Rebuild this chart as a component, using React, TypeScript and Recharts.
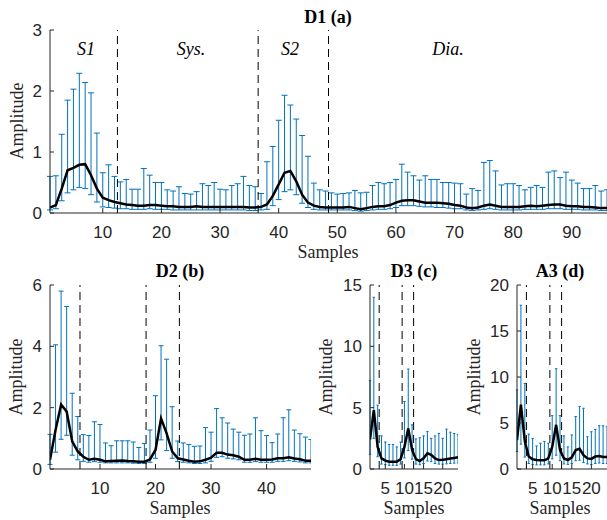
import { LineChart, Line, XAxis, YAxis, ErrorBar, ReferenceLine } from 'recharts'

// D1 (a): 96 samples
const d1Mean = [
  0.09, 0.13, 0.4, 0.7, 0.74, 0.79, 0.8, 0.62, 0.4, 0.25, 0.21, 0.18, 0.16, 0.14, 0.13, 0.12,
  0.12, 0.13, 0.13, 0.12, 0.11, 0.11, 0.1, 0.1, 0.1, 0.11, 0.1, 0.1, 0.1, 0.1, 0.1, 0.1,
  0.1, 0.1, 0.09, 0.09, 0.1, 0.14, 0.28, 0.47, 0.66, 0.69, 0.52, 0.3, 0.17, 0.12, 0.1, 0.09,
  0.09, 0.09, 0.09, 0.1, 0.08, 0.06, 0.08, 0.1, 0.11, 0.11, 0.13, 0.17, 0.2, 0.21, 0.21, 0.19,
  0.17, 0.17, 0.17, 0.16, 0.15, 0.13, 0.12, 0.09, 0.08, 0.09, 0.12, 0.14, 0.12, 0.1, 0.1, 0.1,
  0.1, 0.11, 0.12, 0.11, 0.12, 0.13, 0.14, 0.14, 0.12, 0.11, 0.11, 0.1, 0.1, 0.09, 0.08, 0.08,
]
const d1Upper = [
  0.6, 0.61, 1.29, 1.85, 2.03, 2.29, 2.14, 1.97, 1.31, 0.66, 0.79, 0.6, 0.51, 0.55, 0.39, 0.39,
  0.73, 0.62, 0.5, 0.5, 0.38, 0.36, 0.43, 0.32, 0.31, 0.35, 0.48, 0.45, 0.5, 0.39, 0.38, 0.45,
  0.48, 0.6, 0.45, 0.43, 0.32, 0.84, 1.09, 1.52, 1.93, 1.77, 1.54, 1.27, 0.93, 0.49, 0.38, 0.36,
  0.33, 0.31, 0.32, 0.33, 0.37, 0.33, 0.34, 0.45, 0.5, 0.48, 0.5, 0.55, 0.8, 0.67, 0.61, 0.54,
  0.61, 0.55, 0.55, 0.5, 0.5, 0.49, 0.48, 0.31, 0.4, 0.37, 0.83, 0.86, 0.69, 0.46, 0.48, 0.48,
  0.45, 0.38, 0.42, 0.45, 0.42, 0.67, 0.69, 0.58, 0.67, 0.54, 0.49, 0.4, 0.4, 0.45, 0.36, 0.38,
]
const d1Lower = [
  0.05, 0.07, 0.2, 0.33, 0.38, 0.42, 0.4, 0.3, 0.18, 0.1, 0.09, 0.08, 0.07, 0.07, 0.06, 0.06,
  0.06, 0.07, 0.06, 0.06, 0.06, 0.05, 0.05, 0.05, 0.05, 0.05, 0.05, 0.05, 0.05, 0.05, 0.05, 0.05,
  0.05, 0.05, 0.04, 0.04, 0.05, 0.06, 0.12, 0.22, 0.35, 0.38, 0.3, 0.16, 0.09, 0.06, 0.05, 0.05,
  0.05, 0.05, 0.05, 0.05, 0.04, 0.03, 0.04, 0.05, 0.06, 0.06, 0.07, 0.09, 0.12, 0.12, 0.12, 0.11,
  0.1, 0.1, 0.09, 0.09, 0.08, 0.07, 0.07, 0.05, 0.04, 0.05, 0.06, 0.07, 0.06, 0.05, 0.05, 0.05,
  0.05, 0.06, 0.06, 0.06, 0.06, 0.07, 0.07, 0.07, 0.06, 0.06, 0.06, 0.05, 0.05, 0.05, 0.04, 0.04,
]

// D2 (b): 48 samples
const d2Mean = [
  0.3, 1.27, 2.1, 1.87, 0.9, 0.57, 0.4, 0.3, 0.33, 0.3, 0.25, 0.26, 0.27, 0.28, 0.26, 0.25,
  0.24, 0.24, 0.31, 0.62, 1.65, 1.16, 0.57, 0.35, 0.31, 0.27, 0.24, 0.25, 0.3, 0.37, 0.53, 0.53,
  0.47, 0.45, 0.4, 0.3, 0.3, 0.33, 0.3, 0.3, 0.31, 0.35, 0.35, 0.38, 0.34, 0.32, 0.27, 0.27,
]
const d2Upper = [
  1.13, 4.05, 5.8, 5.3, 2.47, 1.71, 1.12, 1.09, 1.54, 1.45, 0.85, 0.76, 0.92, 0.92, 0.92, 0.88,
  0.7, 0.83, 1.27, 2.39, 4.02, 3.58, 2.03, 0.91, 0.85, 0.8, 0.74, 0.75, 1.35, 1.2, 1.97, 1.67,
  1.5, 1.3, 1.2, 1.1, 1.14, 1.67, 1.25, 1.09, 0.86, 1.14, 1.67, 1.93, 1.27, 1.15, 1.04, 0.96,
]
const d2Lower = [
  0.15, 0.55, 0.97, 1.1, 0.45, 0.3, 0.25, 0.22, 0.24, 0.22, 0.2, 0.2, 0.2, 0.2, 0.2, 0.19,
  0.18, 0.18, 0.22, 0.35, 0.95, 0.6, 0.35, 0.24, 0.22, 0.2, 0.18, 0.18, 0.2, 0.25, 0.38, 0.4,
  0.35, 0.33, 0.3, 0.22, 0.22, 0.24, 0.22, 0.22, 0.22, 0.25, 0.25, 0.27, 0.25, 0.23, 0.2, 0.2,
]

// D3 (c): 24 samples
const d3Mean = [2.4, 4.8, 1.8, 0.87, 0.68, 0.6, 0.6, 0.6, 0.8, 1.8, 3.3, 1.55, 0.8, 0.65, 0.87, 1.28, 1.15, 0.87, 0.73, 0.75, 0.8, 0.85, 0.9, 0.95]
const d3Upper = [7.2, 14.0, 5.2, 2.7, 2.2, 2.0, 2.0, 1.8, 2.2, 5.5, 8.15, 3.6, 2.45, 2.55, 2.7, 3.05, 2.5, 2.7, 2.9, 2.5, 3.25, 3.0, 2.9, 2.8]
const d3Lower = [1.2, 2.5, 1.0, 0.4, 0.35, 0.3, 0.3, 0.3, 0.4, 0.9, 1.5, 0.8, 0.4, 0.35, 0.45, 0.65, 0.6, 0.45, 0.4, 0.4, 0.42, 0.45, 0.48, 0.5]

// A3 (d): 24 samples
const a3Mean = [3.15, 7.0, 3.0, 1.35, 1.05, 0.98, 0.95, 0.95, 1.15, 2.4, 4.8, 2.05, 1.15, 0.98, 1.27, 2.05, 2.2, 1.5, 1.15, 1.1, 1.35, 1.4, 1.3, 1.3]
const a3Upper = [8.6, 17.8, 9.3, 3.8, 3.3, 2.5, 2.8, 3.0, 2.8, 5.8, 10.9, 5.8, 3.6, 2.4, 3.7, 5.7, 6.8, 6.6, 3.5, 4.05, 4.3, 4.7, 4.7, 4.6]
const a3Lower = [1.9, 2.7, 1.3, 0.6, 0.5, 0.45, 0.45, 0.45, 0.55, 1.1, 1.5, 0.9, 0.55, 0.5, 0.6, 0.9, 0.95, 0.7, 0.55, 0.5, 0.6, 0.65, 0.6, 0.6]

// tick labels and segment boundaries
const d1XTicks = [10, 20, 30, 40, 50, 60, 70, 80, 90]
const d1YTicks = [0, 1, 2, 3]
const d1Bounds = [12.5, 36.5, 48.5]
const d2XTicks = [10, 20, 30, 40]
const d2YTicks = [0, 2, 4, 6]
const d2Bounds = [6.4, 18.3, 24.3]
const d3XTicks = [5, 10, 15, 20]
const d3YTicks = [0, 5, 10, 15]
const d3Bounds = [3.4, 9.4, 12.4]
const a3YTicks = [0, 5, 10, 15, 20]
const a3Bounds = [3.4, 9.4, 12.4]

const AXIS = '#262626'
const BLUE = '#0072BD'
const SANS = '"Liberation Sans", Arial, sans-serif'
const SERIF = '"Liberation Serif", "Times New Roman", serif'
const X_GAP = 13
const Y_GAP = 8
const TOP_PAD = 15

const XTick = ({ x, y, payload }: any) => (
  <g>
    <line x1={x} x2={x} y1={y - X_GAP} y2={y - X_GAP - 5} stroke={AXIS} />
    <text x={x} y={y} dy="0.71em" textAnchor="middle" fill={AXIS} fontSize={17} fontFamily={SANS}>
      {payload.value}
    </text>
  </g>
)

const YTick = ({ x, y, payload }: any) => (
  <g>
    <line x1={x + Y_GAP} x2={x + Y_GAP + 4} y1={y} y2={y} stroke={AXIS} />
    <text x={x} y={y} dy="0.355em" textAnchor="end" fill={AXIS} fontSize={17} fontFamily={SANS}>
      {payload.value}
    </text>
  </g>
)

interface PanelProps {
  left: number
  top: number
  plotW: number
  plotH: number
  mean: number[]
  upper: number[]
  lower: number[]
  yMax: number
  xTicks: number[]
  yTicks: number[]
  bounds: number[]
  cap: number
}

function Panel({ left, top, plotW, plotH, mean, upper, lower, yMax, xTicks, yTicks, bounds, cap }: PanelProps) {
  const data = mean.map((m, i) => ({
    sample: i + 1,
    m,
    mean: m,
    err: [m - lower[i], upper[i] - m],
  }))
  return (
    <div style={{ position: 'absolute', left: left - 50, top: top - TOP_PAD }}>
      <LineChart
        width={50 + plotW}
        height={TOP_PAD + 40 + plotH}
        data={data}
        margin={{ top: TOP_PAD, right: 0, bottom: 0, left: 0 }}
      >
        <XAxis
          type="number"
          dataKey="sample"
          domain={[1, mean.length]}
          ticks={xTicks}
          interval={0}
          allowDataOverflow
          height={40}
          tickSize={0}
          tickMargin={X_GAP}
          axisLine={{ stroke: AXIS }}
          tick={<XTick />}
        />
        <YAxis
          type="number"
          domain={[0, yMax]}
          ticks={yTicks}
          interval={0}
          allowDataOverflow
          width={50}
          tickSize={0}
          tickMargin={Y_GAP}
          axisLine={{ stroke: AXIS }}
          tick={<YTick />}
        />
        <Line dataKey="m" stroke="none" dot={false} activeDot={false} isAnimationActive={false}>
          <ErrorBar dataKey="err" direction="y" width={cap} stroke={BLUE} strokeWidth={1} isAnimationActive={false} />
        </Line>
        {bounds.map((b) => (
          <ReferenceLine key={b} x={b} stroke="#000" strokeWidth={1} strokeDasharray="8 5" />
        ))}
        <Line dataKey="mean" stroke="#000" strokeWidth={2.5} dot={false} activeDot={false} isAnimationActive={false} />
      </LineChart>
    </div>
  )
}

function VLabel({ x, y }: { x: number; y: number }) {
  return (
    <text x={x} y={y} transform={`rotate(-90 ${x} ${y})`} textAnchor="middle" fontSize={18} fontFamily={SERIF} fill={AXIS}>
      Amplitude
    </text>
  )
}

export default function App() {
  return (
    <div style={{ position: 'absolute', left: 0, top: 0, width: 607, height: 520, overflow: 'hidden', background: '#fff' }}>
      <Panel left={50} top={30} plotW={557} plotH={183} mean={d1Mean} upper={d1Upper} lower={d1Lower}
        yMax={3} xTicks={d1XTicks} yTicks={d1YTicks} bounds={d1Bounds} cap={3} />
      <Panel left={50} top={285} plotW={261} plotH={184} mean={d2Mean} upper={d2Upper} lower={d2Lower}
        yMax={6} xTicks={d2XTicks} yTicks={d2YTicks} bounds={d2Bounds} cap={2.5} />
      <Panel left={370} top={285} plotW={88} plotH={184} mean={d3Mean} upper={d3Upper} lower={d3Lower}
        yMax={15} xTicks={d3XTicks} yTicks={d3YTicks} bounds={d3Bounds} cap={1.2} />
      <Panel left={517} top={285} plotW={90} plotH={184} mean={a3Mean} upper={a3Upper} lower={a3Lower}
        yMax={20} xTicks={d3XTicks} yTicks={a3YTicks} bounds={a3Bounds} cap={1.2} />

      <svg width={607} height={520} style={{ position: 'absolute', left: 0, top: 0, pointerEvents: 'none' }}>
        <g fontFamily={SERIF} fontWeight="bold" fontSize={18} fill="#000" textAnchor="middle">
          <text x={328} y={22.5}>D1 (a)</text>
          <text x={180} y={277}>D2 (b)</text>
          <text x={414} y={277}>D3 (c)</text>
          <text x={560} y={277}>A3 (d)</text>
        </g>
        <g fontFamily={SERIF} fontStyle="italic" fontSize={18} fill="#000" textAnchor="middle">
          <text x={86} y={55}>S1</text>
          <text x={191} y={55}>Sys.</text>
          <text x={290} y={55}>S2</text>
          <text x={448} y={55}>Dia.</text>
        </g>
        <g fontFamily={SERIF} fontSize={18} fill={AXIS} textAnchor="middle">
          <text x={328} y={258}>Samples</text>
          <text x={180} y={514}>Samples</text>
          <text x={414} y={514}>Samples</text>
          <text x={560} y={514}>Samples</text>
        </g>
        <VLabel x={23} y={121} />
        <VLabel x={22} y={377} />
        <VLabel x={332} y={377} />
        <VLabel x={480} y={377} />
      </svg>
    </div>
  )
}
